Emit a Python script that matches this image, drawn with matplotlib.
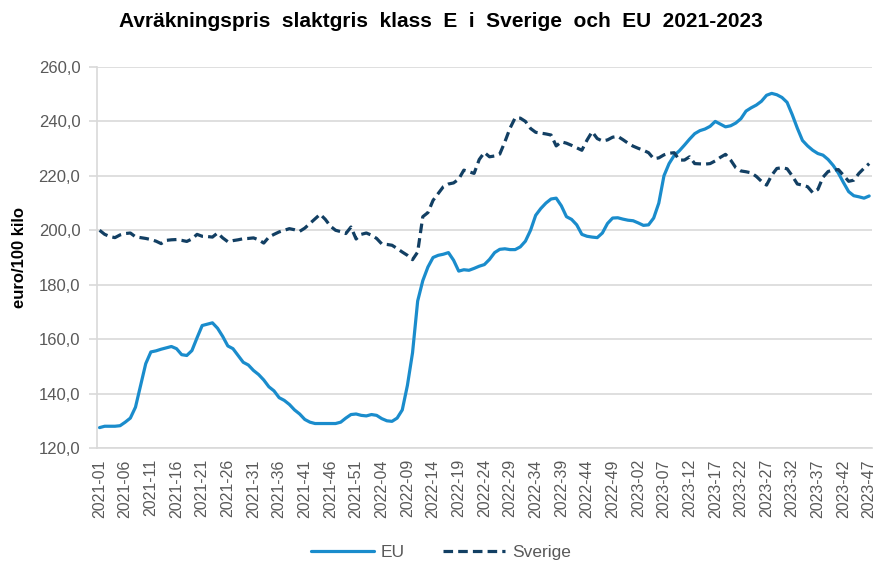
import matplotlib
matplotlib.use("Agg")
import matplotlib.pyplot as plt
from matplotlib.ticker import FuncFormatter

plt.rcParams["font.family"] = ["Liberation Sans", "DejaVu Sans"]

# Veckor 2021-01 .. 2023-47
YEARS = [(2021, 52), (2022, 52), (2023, 47)]
weeks = [f"{y}-{w:02d}" for y, n in YEARS for w in range(1, n + 1)]

# euro/100 kilo
eu = [
    127.5, 128, 128, 128, 128.2, 129.5, 131, 135, 143, 151,
    155.3, 155.7, 156.3, 156.8, 157.3, 156.5, 154.3, 154, 155.8, 160.5,
    165, 165.5, 166, 164, 161, 157.5, 156.5, 154, 151.5, 150.5,
    148.5, 147, 145, 142.5, 141, 138.5, 137.5, 136, 134, 132.5,
    130.5, 129.5, 129, 129, 129, 129, 129, 129.5, 131, 132.3,
    132.5, 132,
    131.8, 132.3, 132, 130.8, 130, 129.8, 131, 134, 143, 155,
    174, 181.5, 186.5, 190, 190.8, 191.2, 191.8, 189, 185, 185.5,
    185.3, 186, 186.8, 187.4, 189.3, 191.8, 193, 193.2, 192.9, 192.9,
    193.9, 196, 200, 205.5, 208, 210, 211.5, 211.8, 209, 205,
    204, 202, 198.5, 197.8, 197.5, 197.3, 199, 202.5,
    204.5, 204.6, 204.1, 203.7, 203.5, 202.7, 201.8, 202, 204.5, 210,
    220, 224.5, 227.5, 229.2, 231.3, 233.5, 235.5, 236.6, 237.2, 238.2,
    240, 239, 238, 238.4, 239.4, 241, 243.8, 245, 246, 247.4,
    249.6, 250.3, 249.8, 248.8, 247, 242.5, 237.5, 233, 231, 229.4,
    228.2, 227.6, 226, 223.8, 221, 217.5, 214.2, 212.7, 212.3, 211.8,
    212.6,
]

sverige = [
    200, 198.5, 197.7, 197.3, 198.3, 198.8, 199, 197.6, 197.3, 197,
    196.6, 196, 195.1, 196.3, 196.5, 196.6, 196.3, 195.9, 196.8, 198.5,
    197.8, 197.7, 197.5, 199, 197.2, 195.8, 196.2, 196.5, 196.9, 197,
    197.2, 196.5, 195.3, 197.5, 198.5, 199.4, 200, 200.6, 200.2, 199.6,
    200.8, 202.5, 204.2, 205.9, 204, 201.5, 200, 199.5, 198.8, 201.2,
    196.8, 198.5,
    199, 198.2, 197, 195, 194.8, 194.5, 193.3, 192, 190.8, 189.2,
    192, 205, 206.5, 211, 213.5, 216, 217, 217.4, 218.8, 222.1,
    221.5, 220.9, 226, 228.6, 227, 227.3, 228, 232.5, 237.5, 241.3,
    241.2, 240, 237.4, 236, 235.7, 235.4, 235, 231, 232.5, 232,
    231.2, 230.3, 229.4, 233.1, 236.2, 233.7, 232.8, 233.2,
    234.2, 234.5, 233.3, 232, 230.9, 230.1, 229.4, 228.5, 226.3, 226.6,
    227.7, 228.3, 228.5, 225.8, 225.8, 227, 224.5, 224.4, 224.3, 224.5,
    225.5, 226.8, 227.9, 225.8, 223, 221.8, 221.5, 221.1, 219.8, 218,
    216.6, 220.2, 222.7, 223, 222.6, 220, 217, 216.6, 216, 213.8,
    215, 219.5, 221.6, 222.1, 222.3, 220.2, 218, 218.4, 220.9, 222.8,
    224.5,
]

EU_BLUE = "#1a8ccc"
SE_NAVY = "#123f63"
GRID = "#d9d9d9"
TXT = "#595959"

fig = plt.figure(figsize=(8.77, 5.70), dpi=100)
ax = fig.add_axes([0.1106, 0.214, 0.8834, 0.6685])

x = list(range(len(weeks)))
ax.plot(x, eu, color=EU_BLUE, lw=2.3, label="EU", solid_capstyle="round")
ax.plot(x, sverige, color=SE_NAVY, lw=2.3, ls=(0, (3, 1.6)), label="Sverige")

ax.set_xlim(-0.5, len(weeks) - 0.5)
ax.set_ylim(120, 260)
ax.set_yticks(range(120, 261, 20))
ax.yaxis.set_major_formatter(FuncFormatter(lambda v, p: f"{v:.1f}".replace(".", ",")))
ax.grid(axis="y", color=GRID, lw=1.2)
ax.set_axisbelow(True)

ticks = x[::5]
ax.set_xticks(ticks)
ax.set_xticklabels([weeks[i] for i in ticks], rotation=90)
ax.tick_params(axis="x", length=0, pad=8, labelsize=11.5, labelcolor=TXT)
ax.tick_params(axis="y", length=6, color=GRID, width=1.2, pad=6, labelsize=12, labelcolor=TXT)

for s in ["top", "right"]:
    ax.spines[s].set_visible(False)
for s in ["left", "bottom"]:
    ax.spines[s].set_color(GRID)
    ax.spines[s].set_linewidth(1.2)

ax.set_ylabel("euro/100 kilo", fontsize=12, fontweight="bold", labelpad=8)

fig.text(0.503, 0.962, "Avräkningspris  slaktgris  klass  E  i  Sverige  och  EU  2021-2023",
         ha="center", va="center", fontsize=15, fontweight="bold")

fig.legend(loc="center", bbox_to_anchor=(0.503, 0.03), ncol=2, frameon=False,
           fontsize=12.5, handlelength=3.6, handletextpad=0.4, columnspacing=2.2,
           labelcolor=TXT)

fig.savefig("out.png", dpi=100)
